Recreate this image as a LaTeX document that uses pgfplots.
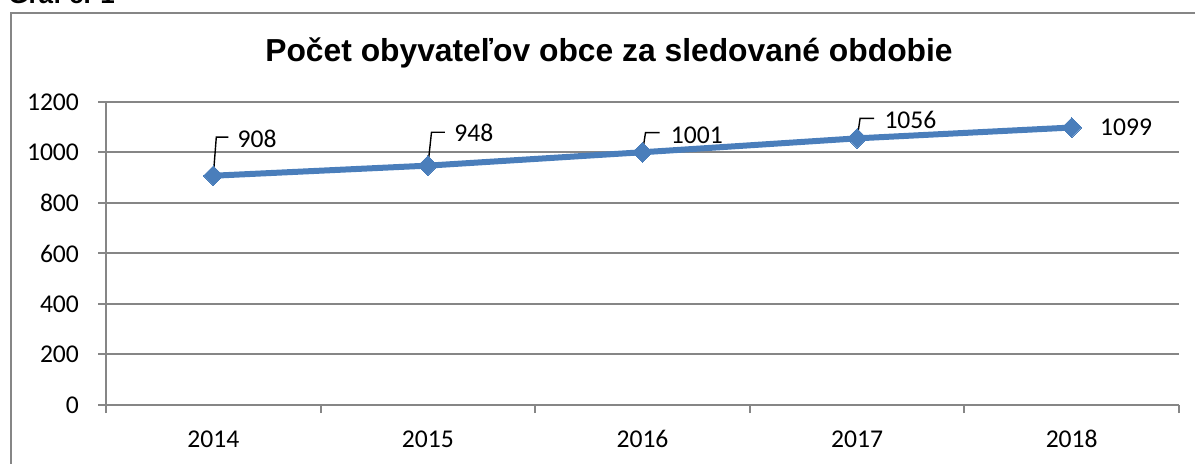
\documentclass[border=0pt]{standalone}
\usepackage{pgfplots}
\pgfplotsset{compat=1.18}
\usepackage{fontspec}
\setmainfont{Carlito}
\newfontfamily\arialfont{Liberation Sans}
\definecolor{serieblue}{RGB}{74,126,187}
\definecolor{gridgray}{RGB}{134,134,134}
\begin{document}
\begin{tikzpicture}
\useasboundingbox (0,-232pt) rectangle (597.5pt,0pt);
% outer chart frame (extends beyond the visible page on right and bottom)
\draw[gridgray, line width=1pt] (5.5pt,-240pt) -- (5.5pt,-6.5pt) -- (605pt,-6.5pt);
% cut-off caption
\node[anchor=base west, inner sep=0pt, font=\arialfont\bfseries\fontsize{13}{15}\selectfont] at (4pt,-1.6pt) {Graf č. 1};
% title
\node[anchor=base, inner sep=0pt, font=\arialfont\bfseries\fontsize{15.9}{18}\selectfont] at (304.5pt,-31pt) {Počet obyvateľov obce za sledované obdobie};
\begin{axis}[
  at={(53pt,-202.5pt)}, anchor=south west,
  scale only axis, width=536.5pt, height=151.5pt,
  xmin=-0.5, xmax=4.5, ymin=0, ymax=1200,
  axis x line=bottom, axis y line=left,
  axis line style={-, gridgray, line width=1pt},
  xtick={0,1,2,3,4},
  xticklabels={2014,2015,2016,2017,2018},
  major x tick style={draw=none},
  minor xtick={-0.5,0.5,1.5,2.5,3.5,4.5},
  minor x tick style={gridgray, line width=1pt},
  minor tick length=4pt,
  ytick={0,200,400,600,800,1000,1200},
  major y tick style={gridgray, line width=1pt},
  major tick length=4pt,
  tick align=outside,
  ymajorgrids,
  grid style={gridgray, line width=1pt},
  tick label style={font=\fontsize{12.8}{15}\selectfont, text=black},
  yticklabel style={anchor=east, xshift=-6pt},
  xticklabel style={anchor=base, inner sep=0pt, yshift=-17pt},
  /pgf/number format/assume math mode=true,
  /pgf/number format/1000 sep={},
  scaled ticks=false,
  clip=false,
]
\addplot[serieblue, line width=3pt, mark=square*, mark size=3.5pt,
  mark options={rotate=45, fill=serieblue, draw=serieblue, line width=0pt}]
  coordinates {(0,908) (1,948) (2,1001) (3,1056) (4,1099)};
\begin{scope}[font=\fontsize{12.8}{15}\selectfont]
\draw[black, line width=0.7pt] (axis cs:0,908) -- ++(1.5pt,19.3pt) -- ++(6pt,0pt);
\node[anchor=west, inner sep=0pt] at ([shift={(12pt,18.5pt)}]axis cs:0,908) {908};
\draw[black, line width=0.7pt] (axis cs:1,948) -- ++(1.8pt,16.7pt) -- ++(6.7pt,0pt);
\node[anchor=west, inner sep=0pt] at ([shift={(13pt,16.3pt)}]axis cs:1,948) {948};
\draw[black, line width=0.7pt] (axis cs:2,1001) -- ++(1.5pt,9.8pt) -- ++(7pt,0pt);
\node[anchor=west, inner sep=0pt] at ([shift={(14pt,8.6pt)}]axis cs:2,1001) {1001};
\draw[black, line width=0.7pt] (axis cs:3,1056) -- ++(1.5pt,10pt) -- ++(7pt,0pt);
\node[anchor=west, inner sep=0pt] at ([shift={(13.5pt,9pt)}]axis cs:3,1056) {1056};
\node[anchor=west, inner sep=0pt] at ([shift={(14pt,0pt)}]axis cs:4,1099) {1099};
\end{scope}
\end{axis}
\end{tikzpicture}
\end{document}
